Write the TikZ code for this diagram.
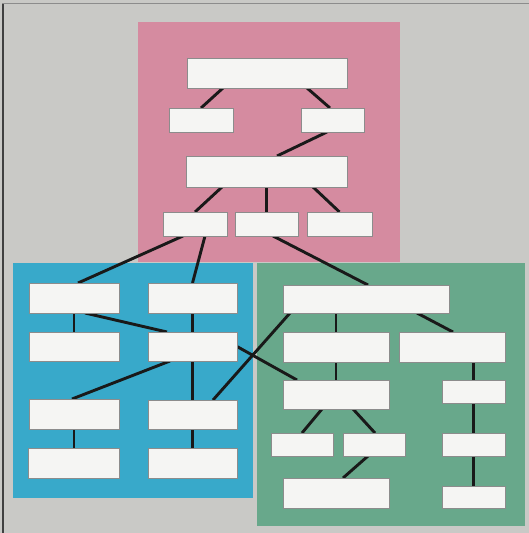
\documentclass[tikz,border=0pt]{standalone}
\usetikzlibrary{calc}
\definecolor{bgGrey}{HTML}{C9C9C6}
\definecolor{pinkArea}{HTML}{D58BA0}
\definecolor{blueArea}{HTML}{38A9CA}
\definecolor{greenArea}{HTML}{68A88B}
\definecolor{boxWhite}{HTML}{F5F5F3}
\pgfdeclarelayer{regions}
\pgfdeclarelayer{links}
\pgfsetlayers{regions,links,main}
\tikzset{
  box/.style={fill=boxWhite, draw=black!45, line width=0.6pt, inner sep=0pt, outer sep=0pt},
  link/.style={draw=black!90, line width=2.9pt, line cap=butt},
}
\begin{document}
\begin{tikzpicture}[x=1pt,y=-1pt]
\useasboundingbox (0,0) rectangle (529,533);
\begin{pgfonlayer}{regions}
  \fill[bgGrey] (0,0) rectangle (529,533);
  \fill[black!75] (2,3) rectangle (4,533);
  \fill[black!45] (2,2.5) rectangle (529,3.5);
  \fill[pinkArea] (138,22) rectangle (400,262);
  \fill[blueArea] (13,263) rectangle (253,498);
  \fill[greenArea] (257,263) rectangle (525,526);
\end{pgfonlayer}
% pink boxes
\node[box, minimum width=160pt, minimum height=30pt] (p1) at (267,73) {};
\node[box, minimum width=64pt, minimum height=24pt] (p2) at (201,120) {};
\node[box, minimum width=63pt, minimum height=24pt] (p3) at (332.5,120) {};
\node[box, minimum width=161pt, minimum height=31pt] (p4) at (266.5,171.5) {};
\node[box, minimum width=64pt, minimum height=24pt] (p5) at (195,224) {};
\node[box, minimum width=63pt, minimum height=24pt] (p6) at (266.5,224) {};
\node[box, minimum width=65pt, minimum height=24pt] (p7) at (339.5,224) {};
% blue boxes
\node[box, minimum width=90pt, minimum height=30pt] (bA) at (74,298) {};
\node[box, minimum width=89pt, minimum height=30pt] (bB) at (192.5,298) {};
\node[box, minimum width=90pt, minimum height=29pt] (bC) at (74,346.5) {};
\node[box, minimum width=89pt, minimum height=29pt] (bD) at (192.5,346.5) {};
\node[box, minimum width=90pt, minimum height=30pt] (bE) at (74,414) {};
\node[box, minimum width=89pt, minimum height=29pt] (bF) at (192.5,414.5) {};
\node[box, minimum width=91pt, minimum height=30pt] (bG) at (73.5,463) {};
\node[box, minimum width=89pt, minimum height=30pt] (bH) at (192.5,463) {};
% green boxes
\node[box, minimum width=166pt, minimum height=28pt] (gA) at (366,299) {};
\node[box, minimum width=106pt, minimum height=30pt] (gB) at (336,347) {};
\node[box, minimum width=106pt, minimum height=30pt] (gC) at (452,347) {};
\node[box, minimum width=106pt, minimum height=29pt] (gD) at (336,394.5) {};
\node[box, minimum width=63pt, minimum height=23pt] (gE) at (473.5,391.5) {};
\node[box, minimum width=62pt, minimum height=23pt] (gF) at (302,444.5) {};
\node[box, minimum width=62pt, minimum height=23pt] (gG) at (374,444.5) {};
\node[box, minimum width=63pt, minimum height=23pt] (gH) at (473.5,444.5) {};
\node[box, minimum width=106pt, minimum height=30pt] (gI) at (336,493) {};
\node[box, minimum width=63pt, minimum height=22pt] (gJ) at (473.5,497) {};
\begin{pgfonlayer}{links}
  % pink
  \draw[link] ([xshift=-44pt]p1.south) -- (p2.north);
  \draw[link] ([xshift=40pt]p1.south) -- ([xshift=-2.5pt]p3.north);
  \draw[link] ([xshift=-5.5pt]p3.south) -- ([xshift=10.5pt]p4.north);
  \draw[link] ([xshift=-44.5pt]p4.south) -- (p5.north);
  \draw[link] (p4.south) -- (p6.north);
  \draw[link] ([xshift=46.5pt]p4.south) -- (p7.north);
  % pink to lower
  \draw[link] ([xshift=-12pt]p5.south) -- ([xshift=4pt]bA.north);
  \draw[link] ([xshift=10pt]p5.south) -- (bB.north);
  \draw[link] ([xshift=6.5pt]p6.south) -- ([xshift=2pt]gA.north);
  % blue
  \draw[link] (bA.south) -- (bC.north);
  \draw[link] ([xshift=11pt]bA.south) -- ([xshift=-25.5pt]bD.north);
  \draw[link] (bB.south) -- (bD.north);
  \draw[link] ([xshift=-22.5pt]bD.south) -- ([xshift=-2pt]bE.north);
  \draw[link] (bD.south) -- (bF.north);
  \draw[link] (bE.south) -- (bE.south |- bG.north);
  \draw[link] (bF.south) -- (bH.north);
  % cross links
  \draw[link] (bD.east) -- ([xshift=-39pt]gD.north);
  \draw[link] ([xshift=20.5pt]bF.north) -- ([xshift=-76pt]gA.south);
  % green
  \draw[link] (gB.north) -- (gB.north |- gA.south);
  \draw[link] ([xshift=51pt]gA.south) -- ([xshift=1pt]gC.north);
  \draw[link] (gB.south) -- (gD.north);
  \draw[link] (gE.north) -- (gE.north |- gC.south);
  \draw[link] ([xshift=-14pt]gD.south) -- (gF.north);
  \draw[link] ([xshift=17pt]gD.south) -- ([xshift=1pt]gG.north);
  \draw[link] ([xshift=-6pt]gG.south) -- ([xshift=7pt]gI.north);
  \draw[link] (gE.south) -- (gH.north);
  \draw[link] (gH.south) -- (gJ.north);
\end{pgfonlayer}
\end{tikzpicture}
\end{document}
